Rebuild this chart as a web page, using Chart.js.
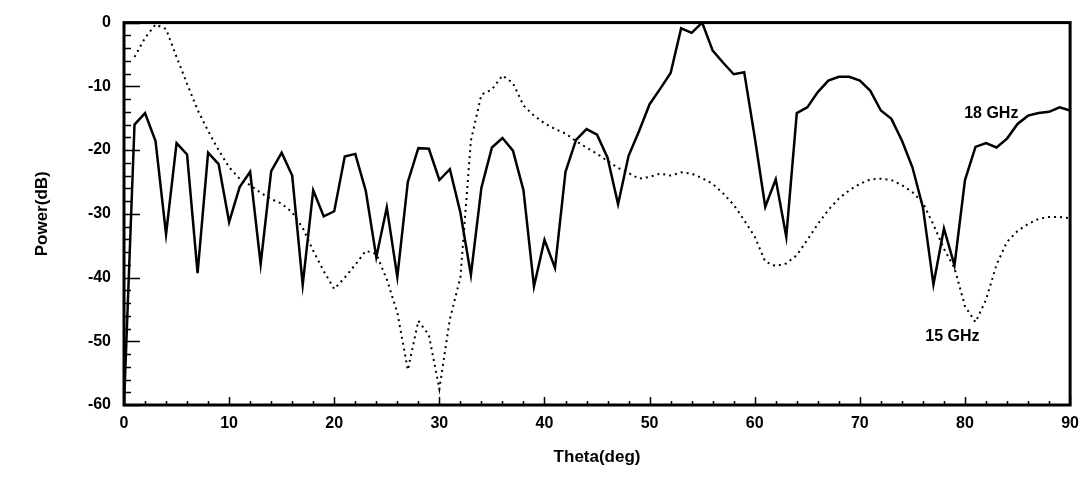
<!DOCTYPE html>
<html>
<head>
<meta charset="utf-8">
<script src="https://cdn.jsdelivr.net/npm/chart.js@4.4.1/dist/chart.umd.min.js"></script>
<style>
  html, body { margin: 0; padding: 0; background: #fff; }
  #wrap { width: 1088px; height: 477px; }
</style>
</head>
<body>
<div id="wrap"><canvas id="chart"></canvas></div>
<script>
// angle in degrees, one sample per degree
const theta = [0, 1, 2, 3, 4, 5, 6, 7, 8, 9, 10, 11, 12, 13, 14, 15, 16, 17, 18, 19, 20,
  21, 22, 23, 24, 25, 26, 27, 28, 29, 30, 31, 32, 33, 34, 35, 36, 37, 38, 39, 40,
  41, 42, 43, 44, 45, 46, 47, 48, 49, 50, 51, 52, 53, 54, 55, 56, 57, 58, 59, 60,
  61, 62, 63, 64, 65, 66, 67, 68, 69, 70, 71, 72, 73, 74, 75, 76, 77, 78, 79, 80,
  81, 82, 83, 84, 85, 86, 87, 88, 89, 90];

// 18 GHz (solid)
const power18 = [-60, -16.0, -14.2, -18.6, -33.2, -18.9, -20.7, -39.3, -20.4, -22.2, -31.3,
  -25.8, -23.4, -37.9, -23.3, -20.4, -24.0, -41.1, -26.3, -30.4, -29.6,
  -21.0, -20.6, -26.4, -36.8, -29.0, -39.9, -25.0, -19.7, -19.8, -24.7,
  -23.0, -29.8, -39.6, -25.9, -19.6, -18.1, -20.1, -26.3, -41.4, -34.1,
  -38.5, -23.4, -18.4, -16.7, -17.6, -21.2, -28.5, -20.9, -17.0, -12.8,
  -10.4, -7.9, -0.9, -1.6, 0, -4.4, -6.3, -8.1, -7.8, -18.0,
  -28.9, -24.6, -33.6, -14.2, -13.3, -10.9, -9.1, -8.5, -8.5, -9.1,
  -10.7, -13.8, -15.1, -18.5, -22.7, -29.0, -41.1, -32.3, -38.1, -24.7,
  -19.5, -18.9, -19.6, -18.2, -15.9, -14.6, -14.2, -14.0, -13.3, -13.8];

// 15 GHz (dotted)
const power15 = [null, -5.4, -2.4, -0.3, -1.0, -5.4, -9.6, -13.7, -17.0, -20.0, -22.7,
  -24.5, -25.5, -26.7, -27.7, -28.4, -29.8, -32.2, -35.8, -39.0, -41.8,
  -40.0, -38.0, -35.8, -36.3, -40.3, -45.5, -54.5, -46.8, -49.0, -57.5,
  -46.5, -40.0, -18.5, -11.3, -10.5, -8.3, -9.5, -13.0, -14.6, -15.8,
  -16.7, -17.4, -18.6, -19.6, -20.6, -21.7, -22.8, -23.6, -24.5, -24.2,
  -23.7, -24.0, -23.5, -23.7, -24.4, -25.3, -26.8, -28.6, -31.0, -33.6,
  -37.5, -38.2, -37.8, -36.5, -34.1, -31.6, -29.4, -27.6, -26.3, -25.3,
  -24.6, -24.5, -24.7, -25.5, -26.6, -28.3, -31.7, -35.5, -38.5, -44.5,
  -47.0, -43.5, -38.0, -34.4, -32.7, -31.6, -30.8, -30.5, -30.5, -30.7];

const curveNames = ["18 GHz", "15 GHz"];
// where the in-plot curve names sit, in data units
const nameTheta = [82.5, 78.8];
const nameDb = [-14.2, -49.3];

const FONT = '"Liberation Sans", Arial, sans-serif';

function toPoints(vals) {
  return theta.map((t, i) => ({ x: t, y: vals[i] }));
}

// box around the plot, inward ticks and curve names
const framePlugin = {
  id: "frame",
  afterDatasetsDraw(chart) {
    const { ctx, chartArea: a, scales } = chart;
    const xs = scales.x, ys = scales.y;
    ctx.save();
    ctx.strokeStyle = "#000";
    ctx.lineWidth = 1.5;
    ctx.beginPath();
    for (let v = ys.min; v <= ys.max; v += 2) {
      const py = Math.round(ys.getPixelForValue(v)) + 0.5;
      const len = v % 10 === 0 ? 16 : 7;
      ctx.moveTo(a.left, py);
      ctx.lineTo(a.left + len, py);
    }
    for (let v = xs.min; v <= xs.max; v += 2) {
      const px = Math.round(xs.getPixelForValue(v)) + 0.5;
      const len = v % 10 === 0 ? 8 : 4;
      ctx.moveTo(px, a.bottom);
      ctx.lineTo(px, a.bottom - len);
    }
    ctx.stroke();

    ctx.lineWidth = 3;
    ctx.strokeRect(a.left, a.top, a.right - a.left, a.bottom - a.top);

    ctx.fillStyle = "#000";
    ctx.font = "bold 16px " + FONT;
    ctx.textAlign = "center";
    ctx.textBaseline = "middle";
    curveNames.forEach((name, i) => {
      ctx.fillText(name, xs.getPixelForValue(nameTheta[i]), ys.getPixelForValue(nameDb[i]));
    });
    ctx.restore();
  },
};

new Chart(document.getElementById("chart"), {
  type: "line",
  data: {
    datasets: [
      {
        label: curveNames[0],
        data: toPoints(power18),
        borderColor: "#000",
        borderWidth: 2.5,
        pointRadius: 0,
        tension: 0,
      },
      {
        label: curveNames[1],
        data: toPoints(power15),
        borderColor: "#000",
        borderWidth: 2,
        borderDash: [2, 4],
        pointRadius: 0,
        tension: 0,
      },
    ],
  },
  options: {
    responsive: true,
    maintainAspectRatio: false,
    animation: false,
    layout: { padding: { left: 0, right: 17, top: 20, bottom: 0 } },
    plugins: { legend: { display: false }, tooltip: { enabled: false } },
    scales: {
      x: {
        type: "linear",
        min: 0,
        max: 90,
        grid: { display: false, drawTicks: false },
        border: { display: false },
        ticks: {
          stepSize: 10,
          padding: 9,
          color: "#000",
          font: { family: FONT, size: 16, weight: "bold" },
        },
        title: {
          display: true,
          text: "Theta(deg)",
          color: "#000",
          padding: { top: 0, bottom: 9 },
          font: { family: FONT, size: 17, weight: "bold" },
        },
        afterFit(scale) { scale.height = 72; },
      },
      y: {
        min: -60,
        max: 0,
        grid: { display: false, drawTicks: false },
        border: { display: false },
        ticks: {
          stepSize: 10,
          padding: 13,
          color: "#000",
          font: { family: FONT, size: 16, weight: "bold" },
        },
        title: {
          display: true,
          text: "Power(dB)",
          color: "#000",
          padding: { top: 32, bottom: 0 },
          font: { family: FONT, size: 17, weight: "bold" },
        },
        afterFit(scale) { scale.width = 124; },
      },
    },
  },
  plugins: [framePlugin],
});
</script>
</body>
</html>
